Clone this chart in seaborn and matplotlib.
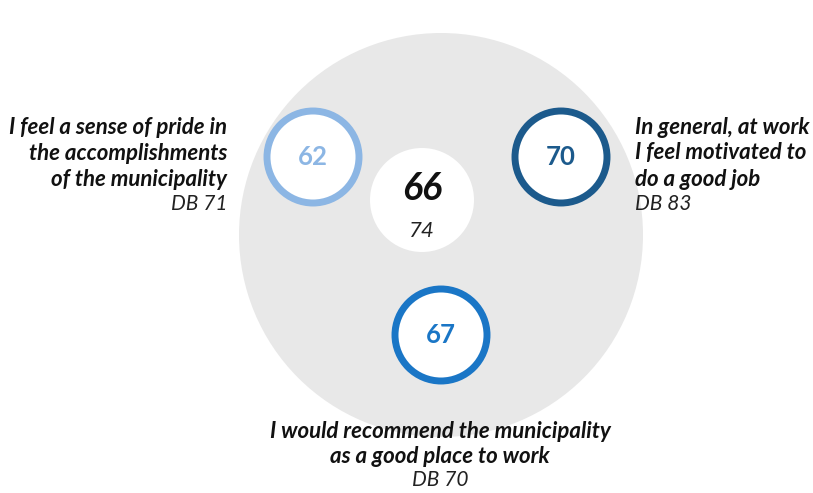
import matplotlib
matplotlib.use("Agg")
import matplotlib.pyplot as plt
from matplotlib.patches import Circle
import seaborn as sns

# Engagement index and its three component statements
overall_score = 66
overall_benchmark = 74

statements = [
    "I feel a sense of pride in\nthe accomplishments\nof the municipality",
    "In general, at work\nI feel motivated to\ndo a good job",
    "I would recommend the municipality\nas a good place to work",
]
scores = [62, 70, 67]
benchmarks = [71, 83, 70]
ring_colors = ["#8cb6e4", "#1c5a8c", "#1a76c6"]

sns.set_theme(style="white")
plt.rcParams["font.family"] = ["Lato", "DejaVu Sans"]

W, H = 813, 493
fig = plt.figure(figsize=(W / 100, H / 100), dpi=100)
ax = fig.add_axes([0, 0, 1, 1])
ax.set_xlim(0, W)
ax.set_ylim(H, 0)
ax.set_aspect("equal")
ax.axis("off")

# Background disc and central index
ax.add_patch(Circle((441, 235), 202, facecolor="#e8e8e8", edgecolor="none"))
ax.add_patch(Circle((422, 200), 52, facecolor="white", edgecolor="none"))
ax.text(422, 189, str(overall_score), ha="center", va="center",
        fontsize=27, fontweight="bold", fontstyle="italic", color="#111111")
ax.text(422, 231, str(overall_benchmark), ha="center", va="center",
        fontsize=16, fontstyle="italic", color="#222222")

# Component rings
ring_centers = [(313, 157), (561, 157), (441, 335)]
for (cx, cy), s, c in zip(ring_centers, scores, ring_colors):
    ax.add_patch(Circle((cx, cy), 46, facecolor="white", edgecolor=c, linewidth=5))
    ax.text(cx, cy, str(s), ha="center", va="center",
            fontsize=18.5, fontweight="bold", color=c)

# Statement labels with benchmark values
label_pos = [(227, 127, 26, "right"), (635, 127, 26, "left"), (440, 432, 24.5, "center")]
for (x, y, step, ha), txt, b in zip(label_pos, statements, benchmarks):
    lines = txt.split("\n")
    for i, line in enumerate(lines):
        ax.text(x, y + i * step, line, ha=ha, va="center", fontsize=16,
                fontweight="bold", fontstyle="italic", color="#111111")
    ax.text(x, y + len(lines) * step - 0.5, f"DB {b}", ha=ha, va="center",
            fontsize=15, fontstyle="italic", color="#222222")

fig.savefig("out.png", dpi=100, facecolor="white")
